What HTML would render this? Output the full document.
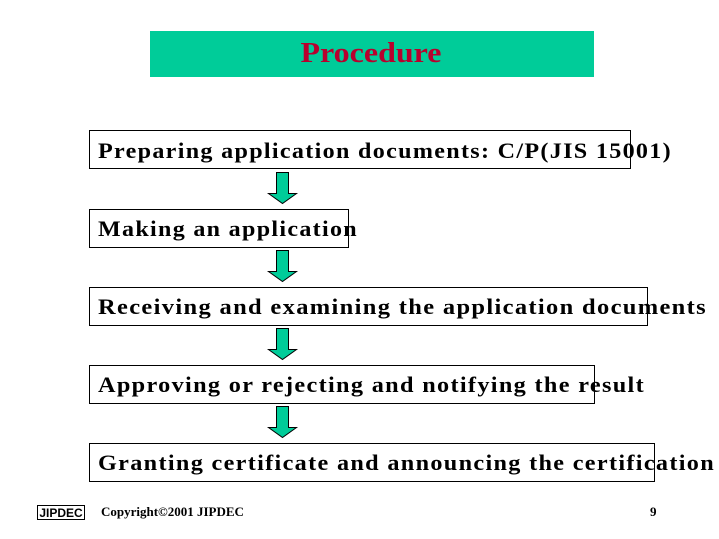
<!DOCTYPE html>
<html><head><meta charset="utf-8"><style>
html,body{margin:0;padding:0;background:#fff;width:719px;height:539px;overflow:hidden}
</style></head><body>
<svg width="719" height="539" xmlns="http://www.w3.org/2000/svg" font-family="Liberation Serif, serif">
<rect x="150" y="31" width="444" height="46" fill="#00CC99"/>
<text x="371" y="62" text-anchor="middle" font-size="29" font-weight="bold" fill="#B8002E" textLength="141" lengthAdjust="spacingAndGlyphs">Procedure</text>
<g fill="none" stroke="#000" stroke-width="1">
<rect x="89.5" y="130.5" width="541" height="38"/>
<rect x="89.5" y="209.5" width="259" height="38"/>
<rect x="89.5" y="287.5" width="558" height="38"/>
<rect x="89.5" y="365.5" width="505" height="38"/>
<rect x="89.5" y="443.5" width="565" height="38"/>
</g>
<g font-size="22" font-weight="bold" fill="#000" style="letter-spacing:1.2px">
<text x="98" y="158" textLength="574" lengthAdjust="spacingAndGlyphs">Preparing application documents: C/P(JIS 15001)</text>
<text x="98" y="236" textLength="260" lengthAdjust="spacingAndGlyphs">Making an application</text>
<text x="98" y="314" textLength="609" lengthAdjust="spacingAndGlyphs">Receiving and examining the application documents</text>
<text x="98" y="392" textLength="547" lengthAdjust="spacingAndGlyphs">Approving or rejecting and notifying the result</text>
<text x="98" y="470" textLength="617" lengthAdjust="spacingAndGlyphs">Granting certificate and announcing the certification</text>
</g>
<g fill="#00CC99" stroke="#000" stroke-width="1">
<path d="M276.5 172.5 H288.5 V193.5 H296.5 L282.5 203.5 L268.5 193.5 H276.5 Z"/>
<path d="M276.5 250.5 H288.5 V271.5 H296.5 L282.5 281.5 L268.5 271.5 H276.5 Z"/>
<path d="M276.5 328.5 H288.5 V349.5 H296.5 L282.5 359.5 L268.5 349.5 H276.5 Z"/>
<path d="M276.5 406.5 H288.5 V427.5 H296.5 L282.5 437.5 L268.5 427.5 H276.5 Z"/>
</g>
<rect x="37.5" y="505.5" width="47" height="14" fill="#fff" stroke="#000"/>
<text x="61" y="517" text-anchor="middle" font-family="Liberation Sans, sans-serif" font-size="12" font-weight="bold">JIPDEC</text>
<text x="101" y="516" font-size="13" font-weight="bold">Copyright</text>
<text x="158" y="516" font-size="13" font-weight="bold">©2001 JIPDEC</text>
<text x="650" y="516" font-size="13" font-weight="bold">9</text>
</svg>
</body></html>
